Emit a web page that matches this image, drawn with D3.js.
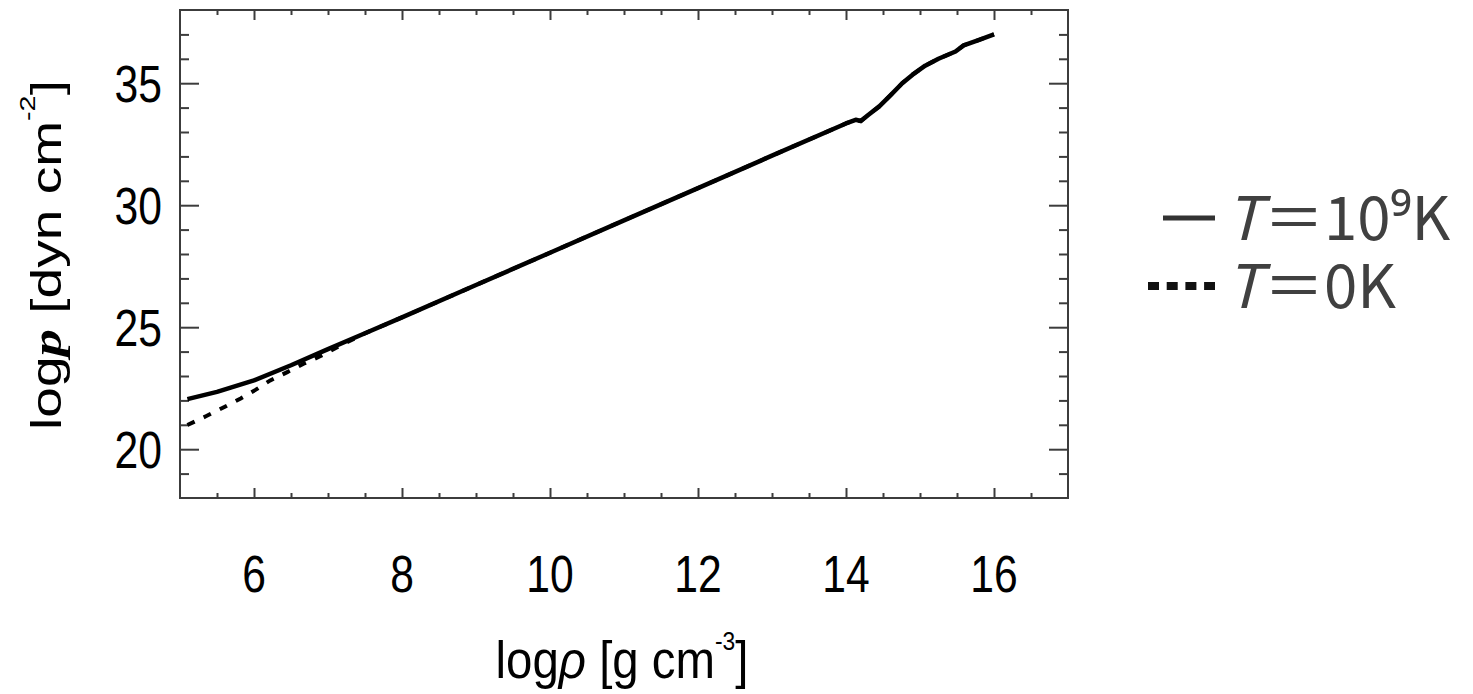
<!DOCTYPE html>
<html>
<head>
<meta charset="utf-8">
<script src="https://cdn.jsdelivr.net/npm/d3@7"></script>
<style>
  body { margin: 0; background: #fff; }
  svg { display: block; }
</style>
</head>
<body>
<svg id="chart"></svg>
<script>
// log rho [g cm^-3] vs log P [dyn cm^-2]
const logRhoHot = [5.1, 5.5, 6.0, 6.5, 7.0, 7.5, 8.0, 9.0, 10.0, 11.0, 12.0, 13.0, 14.0, 14.13, 14.2, 14.3, 14.45, 14.6, 14.76, 14.9, 15.07, 15.25, 15.48, 15.59, 15.79, 16.0];
const logPHot = [22.05, 22.35, 22.82, 23.44, 24.1, 24.75, 25.4, 26.73, 28.05, 29.38, 30.7, 32.03, 33.35, 33.5, 33.45, 33.7, 34.05, 34.5, 35.0, 35.35, 35.72, 36.0, 36.3, 36.55, 36.77, 37.0];

const logRhoCold = [5.1, 5.35, 5.6, 5.82, 6.02, 6.22, 6.45, 6.67, 6.9, 7.2, 7.5, 8.0, 9.0, 10.0, 11.0, 12.0, 13.0, 14.0, 14.13, 14.2, 14.3, 14.45, 14.6, 14.76, 14.9, 15.07, 15.25, 15.48, 15.59, 15.79, 16.0];
const logPCold = [20.99, 21.35, 21.73, 22.08, 22.43, 22.82, 23.16, 23.5, 23.82, 24.3, 24.75, 25.4, 26.73, 28.05, 29.38, 30.7, 32.03, 33.35, 33.5, 33.45, 33.7, 34.05, 34.5, 35.0, 35.35, 35.72, 36.0, 36.3, 36.55, 36.77, 37.0];

const xTicks = [6, 8, 10, 12, 14, 16];
const yTicks = [20, 25, 30, 35];
const legendTemps = ["10⁹", "0"];

const width = 1473, height = 694;
const plotLeft = 180, plotRight = 1068, plotTop = 10, plotBottom = 498;

const svg = d3.select("#chart").attr("width", width).attr("height", height);

const x = d3.scaleLinear().domain([5, 17]).range([plotLeft, plotRight]);
const y = d3.scaleLinear().domain([18, 38]).range([plotBottom, plotTop]);

const axisColor = "#3c3c3c";
const labelFont = "'Liberation Sans', Arial, sans-serif";

// minor ticks every 0.5 on x, every 1 on y
const xMinor = d3.range(5.5, 17, 0.5).filter((v) => v % 2 !== 0);
const yMinor = d3.range(19, 38, 1).filter((v) => v % 5 !== 0);

const tickGroup = svg.append("g");

const addAxis = (axis, transform) => {
	const g = tickGroup.append("g").attr("transform", transform).call(axis);
	g.select(".domain").remove();
	g.selectAll("text").remove();
	g.selectAll("line").attr("stroke", axisColor).attr("stroke-width", 2);
};

addAxis(d3.axisBottom(x).tickValues(xTicks).tickSize(-10).tickFormat(""), `translate(0,${plotBottom})`);
addAxis(d3.axisBottom(x).tickValues(xMinor).tickSize(-5).tickFormat(""), `translate(0,${plotBottom})`);
addAxis(d3.axisTop(x).tickValues(xTicks).tickSize(-10).tickFormat(""), `translate(0,${plotTop})`);
addAxis(d3.axisTop(x).tickValues(xMinor).tickSize(-5).tickFormat(""), `translate(0,${plotTop})`);
addAxis(d3.axisLeft(y).tickValues(yTicks).tickSize(-19).tickFormat(""), `translate(${plotLeft},0)`);
addAxis(d3.axisLeft(y).tickValues(yMinor).tickSize(-9).tickFormat(""), `translate(${plotLeft},0)`);
addAxis(d3.axisRight(y).tickValues(yTicks).tickSize(-19).tickFormat(""), `translate(${plotRight},0)`);
addAxis(d3.axisRight(y).tickValues(yMinor).tickSize(-9).tickFormat(""), `translate(${plotRight},0)`);

svg.append("rect")
	.attr("x", plotLeft).attr("y", plotTop)
	.attr("width", plotRight - plotLeft).attr("height", plotBottom - plotTop)
	.attr("fill", "none").attr("stroke", axisColor).attr("stroke-width", 2);

// tick labels (narrow look of the original fonts)
svg.append("g").selectAll("text").data(xTicks).enter().append("text")
	.attr("transform", (d) => `translate(${x(d)},${plotBottom + 94}) scale(0.82,1)`)
	.attr("text-anchor", "middle")
	.attr("font-family", labelFont).attr("font-size", 52).attr("fill", "#000")
	.text((d) => d);

svg.append("g").selectAll("text").data(yTicks).enter().append("text")
	.attr("transform", (d) => `translate(162,${y(d) + 19}) scale(0.82,1)`)
	.attr("text-anchor", "end")
	.attr("font-family", labelFont).attr("font-size", 52).attr("fill", "#000")
	.text((d) => d);

// x title
const xTitle = svg.append("g").attr("transform", `translate(${(plotLeft + plotRight) / 2 - 2},678)`);
const xt = xTitle.append("text").attr("text-anchor", "middle")
	.attr("font-family", labelFont).attr("font-size", 52).attr("fill", "#000");
xt.append("tspan").text("log");
xt.append("tspan").attr("font-style", "italic").text("ρ");
xt.append("tspan").text(" [g cm");
xt.append("tspan").attr("font-size", 25).attr("dy", -28).text("-3");
xt.append("tspan").attr("dy", 28).text("]");
xt.attr("transform", `scale(${253 / xt.node().getBBox().width},1)`);

// y title, rotated
const yTitle = svg.append("g").attr("transform", `translate(61,${(plotTop + plotBottom) / 2 + 1}) rotate(-90)`);
const yt = yTitle.append("text").attr("text-anchor", "middle")
	.attr("font-family", labelFont).attr("font-size", 42).attr("fill", "#000");
yt.append("tspan").text("log");
yt.append("tspan").attr("font-family", "'Liberation Serif', serif").attr("font-style", "italic").attr("font-weight", "bold").text("p");
yt.append("tspan").text(" [dyn cm");
yt.append("tspan").attr("font-size", 22).attr("dy", -26).text("-2");
yt.append("tspan").attr("dy", 26).text("]");
yt.attr("transform", `scale(${350 / yt.node().getBBox().width},1)`);

// curves
const line = d3.line().x((d) => x(d[0])).y((d) => y(d[1]));

svg.append("path")
	.datum(d3.zip(logRhoCold, logPCold))
	.attr("d", line)
	.attr("fill", "none").attr("stroke", "#000").attr("stroke-width", 4)
	.attr("stroke-dasharray", "8,10");

svg.append("path")
	.datum(d3.zip(logRhoHot, logPHot))
	.attr("d", line)
	.attr("fill", "none").attr("stroke", "#000").attr("stroke-width", 4.5)
	.attr("stroke-linejoin", "round");

// legend
const legendFont = "'Noto Sans CJK JP', 'Noto Sans', sans-serif";
const legend = svg.append("g");

legend.append("line")
	.attr("x1", 1163).attr("x2", 1215).attr("y1", 218).attr("y2", 218)
	.attr("stroke", "#333").attr("stroke-width", 5);
legend.append("line")
	.attr("x1", 1148).attr("x2", 1215).attr("y1", 286).attr("y2", 286)
	.attr("stroke", "#111").attr("stroke-width", 8).attr("stroke-dasharray", "11,7.7");

legendTemps.forEach((t, i) => {
	const txt = legend.append("text")
		.attr("x", 1226).attr("y", 240 + i * 68)
		.attr("font-family", legendFont).attr("font-size", 60).attr("fill", "#404040");
	txt.append("tspan").attr("font-style", "italic").text("T");
	txt.append("tspan").attr("dx", 2).text("＝" + t + "K");
});
</script>
</body>
</html>
